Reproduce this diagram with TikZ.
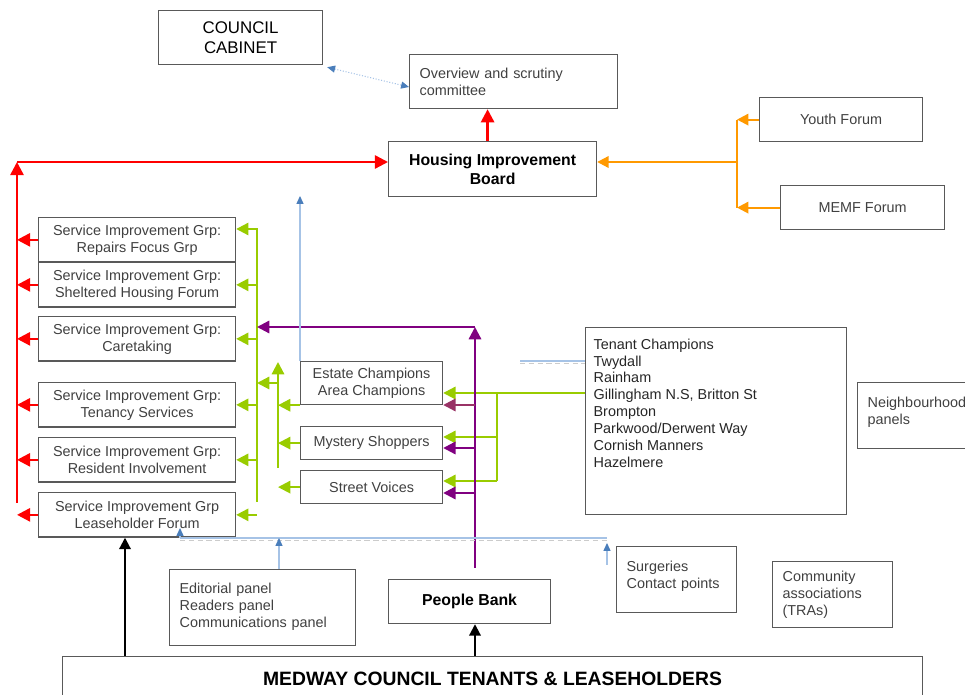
\documentclass[tikz,border=0pt]{standalone}
\usepackage{fontspec}
\setmainfont{Liberation Sans}
\usetikzlibrary{arrows.meta}
\definecolor{boxline}{HTML}{595959}
\definecolor{boxtext}{HTML}{404040}
\definecolor{redline}{HTML}{FF0000}
\definecolor{orangeline}{HTML}{FF9900}
\definecolor{greenline}{HTML}{99CC00}
\definecolor{purpleline}{HTML}{800080}
\definecolor{plumline}{HTML}{993366}
\definecolor{blueline}{HTML}{A6C3E6}
\definecolor{bluetip}{HTML}{4A7EBB}
\begin{document}
\begin{tikzpicture}[x=0.02cm, y=-0.02cm,
   box/.style={draw=boxline, line width=0.7pt, text=boxtext, inner sep=0pt, anchor=north west,
     font=\fontsize{8.2}{9.6}\selectfont, align=center},
   lbox/.style={box, align=left, inner xsep=0.2cm},
   bigbox/.style={box, text=black, font=\fontsize{9.6}{11.5}\selectfont},
   boldbox/.style={box, text=black, font=\bfseries\fontsize{9}{11}\selectfont},
   sig/.style={box, minimum width=3.94cm, minimum height=0.89cm},
   champ/.style={box, minimum width=2.84cm},
   redarr/.style={draw=redline, line width=1.4pt, -{Triangle[length=7.5pt,width=7.5pt]}},
   orgarr/.style={draw=orangeline, line width=1.2pt, -{Triangle[length=6.5pt,width=6.5pt]}},
   orgln/.style={draw=orangeline, line width=1.2pt},
   grnarr/.style={draw=greenline, line width=1.2pt, -{Triangle[length=7pt,width=7pt]}},
   grnln/.style={draw=greenline, line width=1.2pt},
   purarr/.style={draw=purpleline, line width=1.3pt, -{Triangle[length=7pt,width=7pt]}},
   plumarr/.style={purarr, draw=plumline},
   blkarr/.style={draw=black, line width=1.2pt, -{Triangle[length=6.5pt,width=6.5pt]}},
   bluearr/.style={draw=blueline, line width=0.6pt, -{Triangle[length=4.5pt,width=4pt,color=bluetip]}},
   blueln/.style={draw=blueline, line width=0.6pt},
   blueshade/.style={draw=black!20, line width=0.5pt, densely dashed}
]
   \useasboundingbox (0,0) rectangle (965,695);
   \node[bigbox, minimum width=3.28cm, minimum height=1.08cm] (cab) at (158,10) {COUNCIL\\CABINET};
   \node[lbox, text width=3.76cm, minimum height=1.08cm] (ovs) at (409,54) {Overview and scrutiny\\committee};
   \node[boldbox, minimum width=4.16cm, minimum height=1.10cm] (hib) at (388,141) {Housing Improvement\\Board};
   \node[box, minimum width=3.26cm, minimum height=0.88cm] (yth) at (759,97) {Youth Forum};
   \node[box, minimum width=3.28cm, minimum height=0.88cm] (memf) at (780,185) {MEMF Forum};
   \node[sig] (rep) at (38,217) {Service Improvement Grp:\\Repairs Focus Grp};
   \node[sig] (shf) at (38,262) {Service Improvement Grp:\\Sheltered Housing Forum};
   \node[sig] (crt) at (38,316) {Service Improvement Grp:\\Caretaking};
   \node[sig] (tns) at (38,382) {Service Improvement Grp:\\Tenancy Services};
   \node[sig] (rsi) at (38,437) {Service Improvement Grp:\\Resident Involvement};
   \node[sig] (lsh) at (38,492) {Service Improvement Grp\\Leaseholder Forum};
   \node[champ, minimum height=0.86cm] (est) at (300,361) {Estate Champions\\Area Champions};
   \node[champ, minimum height=0.66cm] (mys) at (300,426) {Mystery Shoppers};
   \node[champ, minimum height=0.66cm] (stv) at (300,470) {Street Voices};
   \node[box, minimum width=5.22cm, minimum height=3.74cm] (tc) at (585,327) {};
   \node[box, draw=none, align=left, text=black!85, font=\fontsize{8.2}{9.65}\selectfont] (tclist)
      at ([shift={(8,11)}]tc.north west)
      {Tenant Champions\\Twydall\\Rainham\\Gillingham N.S, Britton St\\Brompton\\Parkwood/Derwent Way\\Cornish Manners\\Hazelmere};
   \node[lbox, text width=2.0cm, minimum height=1.32cm] (nbh) at (857,382) {Neighbourhood\\panels\\[-4pt]\mbox{}};
   \node[lbox, text width=3.32cm, minimum height=1.52cm] (edt) at (169,569) {Editorial panel\\Readers panel\\Communications panel\\[-7pt]\mbox{}};
   \node[boldbox, minimum width=3.24cm, minimum height=0.88cm] (ppl) at (388,579) {People Bank};
   \node[lbox, text width=2.0cm, minimum height=1.32cm] (sur) at (616,546) {Surgeries\\Contact points\\[-4pt]\mbox{}};
   \node[lbox, text width=2.0cm, minimum height=1.32cm] (com) at (772,561) {Community\\associations\\(TRAs)};
   \node[boldbox, font=\bfseries\fontsize{11}{13}\selectfont, minimum width=17.2cm, minimum height=0.88cm] (med) at (62,656) {MEDWAY COUNCIL TENANTS \& LEASEHOLDERS};

   \coordinate (rbus) at (17,162);
   \coordinate (rbot) at (17,503);
   \coordinate (hibtop) at ([xshift=-0.1cm]hib.north);
   \draw[redarr] (rbot) -- (rbus);
   \draw[redarr] (rbus) -- (hib.west |- rbus);
   \draw[redarr] (hibtop) -- (hibtop |- ovs.south);
   \foreach \n in {rep,shf,crt,tns,rsi,lsh}
      \draw[redarr] (\n.west) -- (\n.west -| rbus);

   \coordinate (obus) at (737,162);
   \draw[orgln] (yth.west -| obus) -- (memf.west -| obus);
   \draw[orgarr] (yth.west) -- (yth.west -| obus);
   \draw[orgarr] (memf.west) -- (memf.west -| obus);
   \draw[orgarr] (obus) -- (hib.east |- obus);

   \coordinate (gtop) at (257,229);
   \coordinate (gbot) at (257,502);
   \draw[grnarr] (gbot) -- (gtop) -- (rep.east |- gtop);
   \foreach \n in {shf,crt,tns,rsi,lsh}
      \draw[grnarr] (\n.east -| gtop) -- (\n.east);
   \coordinate (g2top) at (278,362);
   \coordinate (g2bot) at (278,468);
   \coordinate (g2mid) at (278,383);
   \draw[grnarr] (g2bot) -- (g2top);
   \draw[grnarr] (g2mid) -- (g2mid -| gtop);
   \draw[grnarr] (est.south west) -- (est.south west -| g2top);
   \draw[grnarr] (mys.west) -- (mys.west -| g2top);
   \draw[grnarr] (stv.west) -- (stv.west -| g2top);
   \coordinate (g3a) at (497,393);
   \coordinate (g3b) at (497,437);
   \coordinate (g3c) at (497,481);
   \draw[grnln] (g3a) -- (g3c);
   \draw[grnarr] (tc.west |- g3a) -- (est.east |- g3a);
   \draw[grnarr] (g3b) -- (mys.east |- g3b);
   \draw[grnarr] (g3c) -- (stv.east |- g3c);

   \coordinate (pbot) at (475,568);
   \coordinate (ptop) at (475,327);
   \coordinate (pa) at (475,405);
   \coordinate (pb) at (475,448);
   \coordinate (pc) at (475,493);
   \draw[purarr] (pbot) -- (ptop);
   \draw[purarr] (ptop) -- (ptop -| gtop);
   \draw[plumarr] (pa) -- (pa -| est.east);
   \draw[purarr] (pb) -- (pb -| mys.east);
   \draw[purarr] (pc) -- (pc -| stv.east);

   \coordinate (bbl) at (180,538);
   \coordinate (bbr) at (607,538);
   \coordinate (bed) at (279,538);
   \coordinate (bsr) at (607,565);
   \coordinate (btc) at (520,361);
   \draw[blueshade] ([yshift=-0.05cm]bbl) -- ([yshift=-0.05cm]bbr);
   \draw[blueln] (bbl) -- (bbr);
   \draw[bluearr] (bbl) -- ++(0,-10);
   \draw[bluearr] (edt.north -| bed) -- (bed);
   \draw[bluearr] (bsr) -- ++(0,-22);
   \draw[bluearr] (est.north west) -- ++(0,-165);
   \draw[blueshade] ([yshift=-0.05cm]btc) -- ([yshift=-0.05cm]tc.west |- btc);
   \draw[blueln] (btc) -- (tc.west |- btc);
   \draw[bluearr, densely dotted, {Triangle[length=4.5pt,width=4pt,color=bluetip]}-{Triangle[length=4.5pt,width=4pt,color=bluetip]}]
      ([shift={(4,2)}]cab.south east) -- (ovs.west |- 0,87);

   \coordinate (bk1) at (125,656);
   \draw[blkarr] (bk1) -- (bk1 |- lsh.south);
   \draw[blkarr] (med.north -| pbot) -- (ppl.south -| pbot);
\end{tikzpicture}
\end{document}
